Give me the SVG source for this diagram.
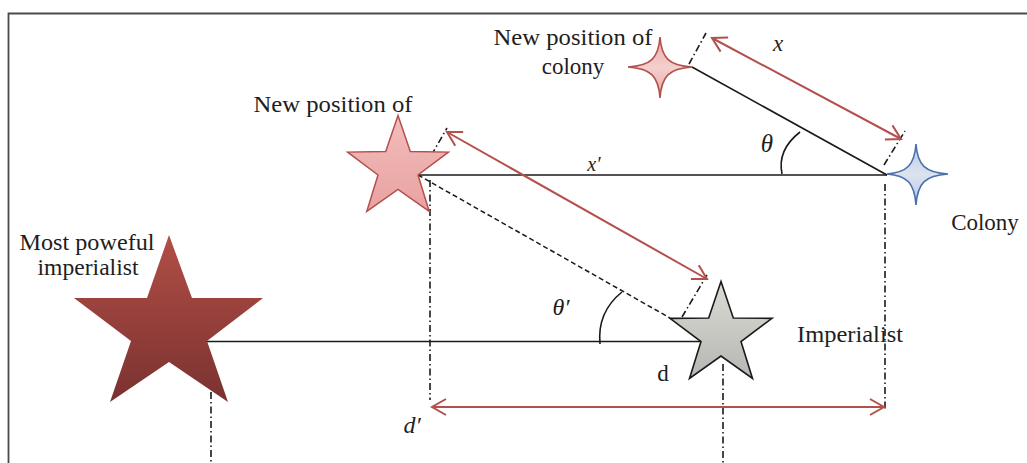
<svg xmlns="http://www.w3.org/2000/svg" width="1027" height="463" viewBox="0 0 1027 463">
<defs>
<style>
.lbl{font-family:"Liberation Serif","Times New Roman",serif;font-size:23px;fill:#1e1e1e}
.math{font-family:"Liberation Serif","Times New Roman",serif;font-style:italic;fill:#1e1e1e}
.ln{stroke:#1a1a1a;stroke-width:1.6;fill:none}
.dd{stroke:#1a1a1a;stroke-width:1.6;fill:none;stroke-dasharray:7 3 1.5 3}
.dash{stroke:#1a1a1a;stroke-width:1.5;fill:none;stroke-dasharray:5 3}
.arr{stroke:#b4504c;stroke-width:2;fill:none;marker-start:url(#chev);marker-end:url(#chev)}
</style>
<marker id="chev" viewBox="-16 -10 18 20" refX="0" refY="0" markerWidth="18" markerHeight="20" markerUnits="userSpaceOnUse" orient="auto-start-reverse">
<path d="M -14 -8 L 0 0 L -14 8" fill="none" stroke="#b4504c" stroke-width="2"/>
</marker>
<linearGradient id="gRed" x1="0" y1="0" x2="0" y2="1"><stop offset="0" stop-color="#b24e47"/><stop offset="1" stop-color="#7a3230"/></linearGradient>
<linearGradient id="gPink" x1="0" y1="0" x2="0" y2="1"><stop offset="0" stop-color="#f2bdbb"/><stop offset="1" stop-color="#e8a2a1"/></linearGradient>
<linearGradient id="gPink4" x1="0" y1="0" x2="0" y2="1"><stop offset="0" stop-color="#eaa6a5"/><stop offset="0.5" stop-color="#f4cfce"/><stop offset="1" stop-color="#eaa6a5"/></linearGradient>
<linearGradient id="gBlue" x1="0" y1="0" x2="0" y2="1"><stop offset="0" stop-color="#b9c9e2"/><stop offset="0.5" stop-color="#dbe3ef"/><stop offset="1" stop-color="#b9c9e2"/></linearGradient>
<linearGradient id="gGray" x1="0" y1="0" x2="0" y2="1"><stop offset="0" stop-color="#dcdcd6"/><stop offset="1" stop-color="#b6b6b2"/></linearGradient>
</defs>
<rect width="1027" height="463" fill="#ffffff"/>
<g id="frame">
<path d="M 8.5 463 L 8.5 13.5 L 1027 13.5" fill="none" stroke="#4a4a4a" stroke-width="1.8"/>
</g>
<g id="connectors">
<line class="ln" x1="207" y1="341.5" x2="701" y2="341.5"/>
<line class="ln" x1="418" y1="175" x2="887" y2="175"/>
<line class="ln" x1="692" y1="67" x2="887" y2="175"/>
<line class="dash" x1="418" y1="175" x2="670" y2="318"/>
<line class="dd" x1="424" y1="168" x2="447" y2="128"/>
<line class="dd" x1="682" y1="317" x2="707" y2="275"/>
<line class="dd" x1="689" y1="64" x2="706" y2="33"/>
<line class="dd" x1="884" y1="165" x2="905" y2="131"/>
<line class="dd" x1="430" y1="180" x2="430" y2="400"/>
<line class="dd" x1="885" y1="184" x2="885" y2="410"/>
<line class="dd" x1="723" y1="364" x2="723" y2="463"/>
<line class="dd" x1="211" y1="392" x2="211" y2="463"/>
<line class="arr" x1="712" y1="38" x2="901" y2="139"/>
<line class="arr" x1="447" y1="132" x2="707" y2="279"/>
<line class="arr" x1="432" y1="407" x2="884" y2="407"/>
<path class="ln" d="M 800 132 Q 777 150 782 174"/>
<path class="ln" d="M 622 292 Q 597 312 600 344"/>
<text class="math" x="778" y="51" font-size="23" text-anchor="middle">x</text>
<text class="math" x="594" y="171" font-size="20" text-anchor="middle">x′</text>
<text class="math" x="767" y="152" font-size="25" text-anchor="middle">θ</text>
<text class="math" x="561" y="315" font-size="24" text-anchor="middle">θ′</text>
<text class="lbl" x="663" y="381" text-anchor="middle">d</text>
<text class="math" x="412" y="433" font-size="24" text-anchor="middle">d′</text>
</g>
<g id="most-powerful-imperialist">
<polygon points="169,235 192,298 263,298 207,341 228,402 169,362 110,402 131,341 74,298 147,298" fill="url(#gRed)"/>
<text class="lbl" x="87" y="250" text-anchor="middle" textLength="135" lengthAdjust="spacingAndGlyphs">Most poweful</text>
<text class="lbl" x="88" y="275" text-anchor="middle" textLength="101" lengthAdjust="spacingAndGlyphs">imperialist</text>
</g>
<g id="imperialist">
<polygon points="721,281.4 733.3,318 772,318.4 741,341.5 752.5,378.4 721,356 689.5,378.4 701,341.5 670,318.4 708.7,318" fill="url(#gGray)" stroke="#1a1a1a" stroke-width="1.6" stroke-linejoin="miter"/>
<text class="lbl" x="850" y="342" text-anchor="middle" textLength="106" lengthAdjust="spacingAndGlyphs">Imperialist</text>
</g>
<g id="new-imperialist">
<polygon points="398,115.5 410.3,151.5 448.4,152.1 418,175 429.2,211.4 398,189.5 366.8,211.4 378,175 347.6,152.1 385.7,151.5" fill="url(#gPink)" stroke="#b4504c" stroke-width="1.5"/>
<text class="lbl" x="333" y="112" text-anchor="middle" textLength="159" lengthAdjust="spacingAndGlyphs">New position of</text>
</g>
<g id="new-colony">
<path d="M 628 67 C 651 65.5 658.5 58 660 37 C 661.5 58 669 65.5 692 67 C 669 68.5 661.5 76 660 98 C 658.5 76 651 68.5 628 67 Z" fill="url(#gPink4)" stroke="#b4504c" stroke-width="1.6"/>
<text class="lbl" x="573" y="45" text-anchor="middle" textLength="159" lengthAdjust="spacingAndGlyphs">New position of</text>
<text class="lbl" x="573" y="74" text-anchor="middle">colony</text>
</g>
<g id="colony">
<path d="M 887 174 C 907 172.5 914.5 165 916 144 C 917.5 165 925 172.5 948 174 C 925 175.5 917.5 183 916 205 C 914.5 183 907 175.5 887 174 Z" fill="url(#gBlue)" stroke="#4a70ad" stroke-width="1.6"/>
<text class="lbl" x="985" y="230" text-anchor="middle">Colony</text>
</g>
</svg>
